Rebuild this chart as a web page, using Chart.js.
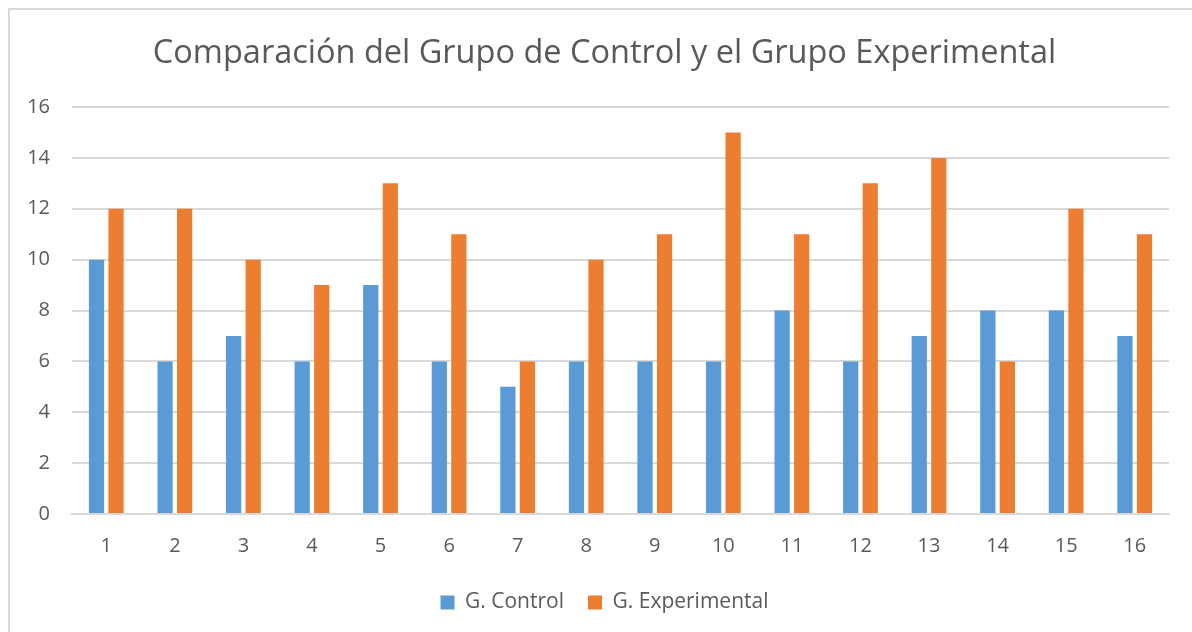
<!DOCTYPE html>
<html>
<head>
<meta charset="utf-8">
<script src="https://cdn.jsdelivr.net/npm/chart.js@4/dist/chart.umd.min.js"></script>
<style>
  html, body { margin: 0; padding: 0; background: #fff; overflow: hidden; }
  #frame { position: absolute; left: 8px; top: 8px; width: 1200px; height: 640px; border: 2px solid #d9d9d9; }
  #wrap { position: absolute; left: 0; top: 0; width: 1192px; height: 632px; }
</style>
</head>
<body>
<div id="frame"></div>
<div id="wrap"><canvas id="myChart"></canvas></div>
<script>
var categories = ["1", "2", "3", "4", "5", "6", "7", "8", "9", "10", "11", "12", "13", "14", "15", "16"];
var controlValues = [10, 6, 7, 6, 9, 6, 5, 6, 6, 6, 8, 6, 7, 8, 8, 7];
var experimentalValues = [12, 12, 10, 9, 13, 11, 6, 10, 11, 15, 11, 13, 14, 6, 12, 11];
var yTicks = [0, 2, 4, 6, 8, 10, 12, 14, 16];

var textColor = "#595959";
var gridColor = "#d9d9d9";
var font = "'Open Sans', 'Liberation Sans', sans-serif";

// the y labels sit in the left padding, so widen the label clip area after layout
var unclipY = {
  id: "unclipY",
  afterLayout: function (chart) {
    chart.scales.y.left = 0;
  },
};

new Chart("myChart", {
  type: "bar",
  data: {
    labels: categories,
    datasets: [
      {
        label: "G. Control",
        data: controlValues,
        backgroundColor: "#5b9bd5",
        barPercentage: 0.78,
        categoryPercentage: 0.57,
      },
      {
        label: "G. Experimental",
        data: experimentalValues,
        backgroundColor: "#ed7d31",
        barPercentage: 0.78,
        categoryPercentage: 0.57,
      },
    ],
  },
  plugins: [unclipY],
  options: {
    responsive: true,
    maintainAspectRatio: false,
    animation: false,
    layout: { padding: { left: 40, right: 23, top: 0, bottom: 9 } },
    plugins: {
      title: {
        display: true,
        text: "Comparación del Grupo de Control y el Grupo Experimental",
        color: textColor,
        font: { family: font, size: 32.5, weight: "normal", lineHeight: 1.2 },
        padding: { top: 34, bottom: 34 },
      },
      legend: {
        position: "bottom",
        labels: {
          color: textColor,
          font: { family: font, size: 21 },
          boxWidth: 14,
          boxHeight: 14,
          padding: 24,
        },
      },
      tooltip: { enabled: false },
    },
    scales: {
      x: {
        grid: { display: false, drawTicks: false },
        border: { display: true, color: gridColor, width: 2 },
        ticks: { color: textColor, font: { family: font, size: 20 }, padding: 20 },
        afterFit: function (scale) { scale.height = 54; },
      },
      y: {
        min: 0,
        max: 16,
        afterBuildTicks: function (scale) {
          scale.ticks = yTicks.map(function (v) { return { value: v }; });
        },
        grid: { color: gridColor, lineWidth: 2, drawTicks: false },
        border: { display: false },
        ticks: { color: textColor, font: { family: font, size: 20 }, padding: 22 },
        afterFit: function (scale) { scale.width = 32; },
      },
    },
  },
});
</script>
</body>
</html>
